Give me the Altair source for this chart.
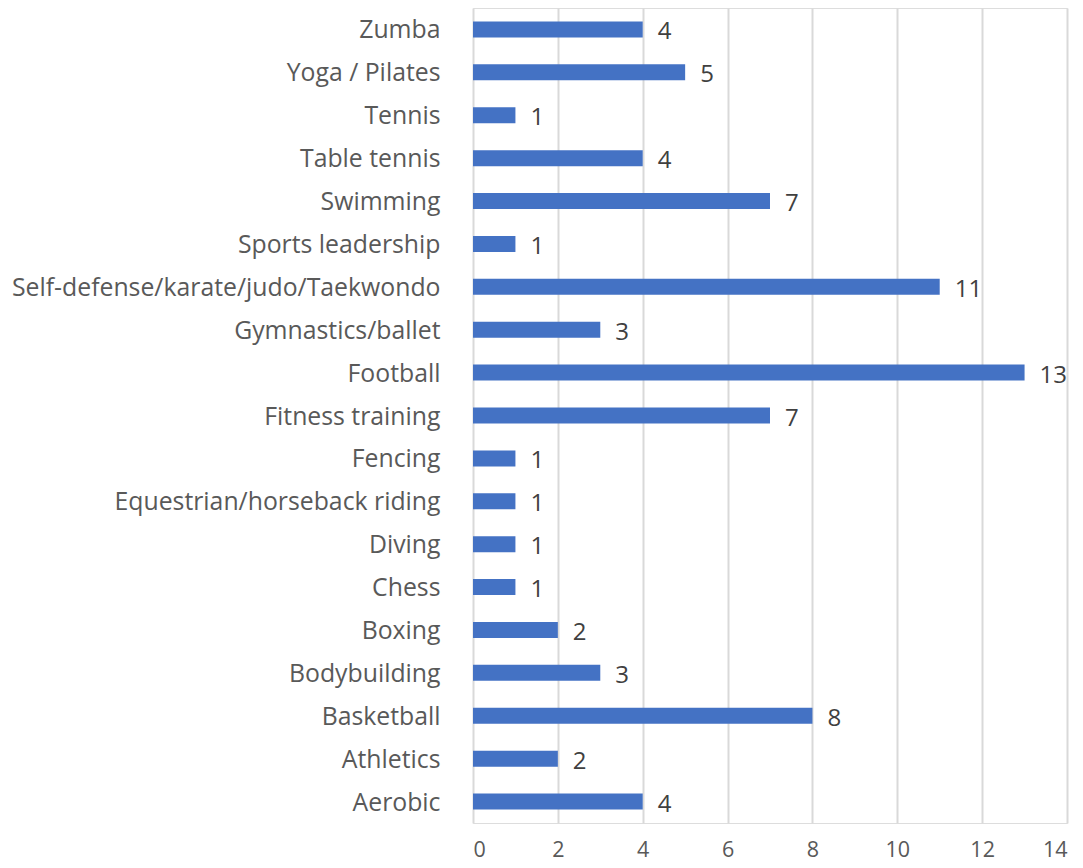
import altair as alt
import pandas as pd

categories = ["Zumba", "Yoga / Pilates", "Tennis", "Table tennis", "Swimming",
              "Sports leadership", "Self-defense/karate/judo/Taekwondo",
              "Gymnastics/ballet", "Football", "Fitness training", "Fencing",
              "Equestrian/horseback riding", "Diving", "Chess", "Boxing",
              "Bodybuilding", "Basketball", "Athletics", "Aerobic"]
values = [4, 5, 1, 4, 7, 1, 11, 3, 13, 7, 1, 1, 1, 1, 2, 3, 8, 2, 4]

df = pd.DataFrame({"activity": categories, "count": values})

FONT = "Open Sans"
GRAY = "#595959"

y = alt.Y("activity:N", sort=categories, title=None,
          scale=alt.Scale(paddingInner=0.62, paddingOuter=0.31),
          axis=alt.Axis(ticks=False, domain=False, labelFont=FONT, labelFontSize=24.8,
                        labelColor=GRAY, labelPadding=33, labelLimit=500,
                        labelOffset=2))
x = alt.X("count:Q", title=None,
          scale=alt.Scale(domain=[0, 14], nice=False),
          axis=alt.Axis(values=[0, 2, 4, 6, 8, 10, 12, 14], ticks=False, domain=False,
                        grid=True, gridColor="#d9d9d9", gridWidth=2,
                        labelFont=FONT, labelFontSize=21.5, labelColor=GRAY,
                        labelPadding=16))

bars = alt.Chart(df).mark_bar(color="#4472C4", size=16).encode(x=x, y=y)
text = alt.Chart(df).mark_text(align="left", baseline="middle", dx=15, dy=3,
                               font=FONT, fontSize=24, color="#404040").encode(
    x="count:Q", y=alt.Y("activity:N", sort=categories), text="count:Q")

chart = (bars + text).properties(
    width=594, height=815,
    autosize=alt.AutoSizeParams(type="none"),
    padding={"left": 465, "top": 0, "right": 8, "bottom": 45},
).configure_view(stroke=None).configure(background="white")

chart.save("out.html", embed_options={"renderer": "svg", "actions": False})
